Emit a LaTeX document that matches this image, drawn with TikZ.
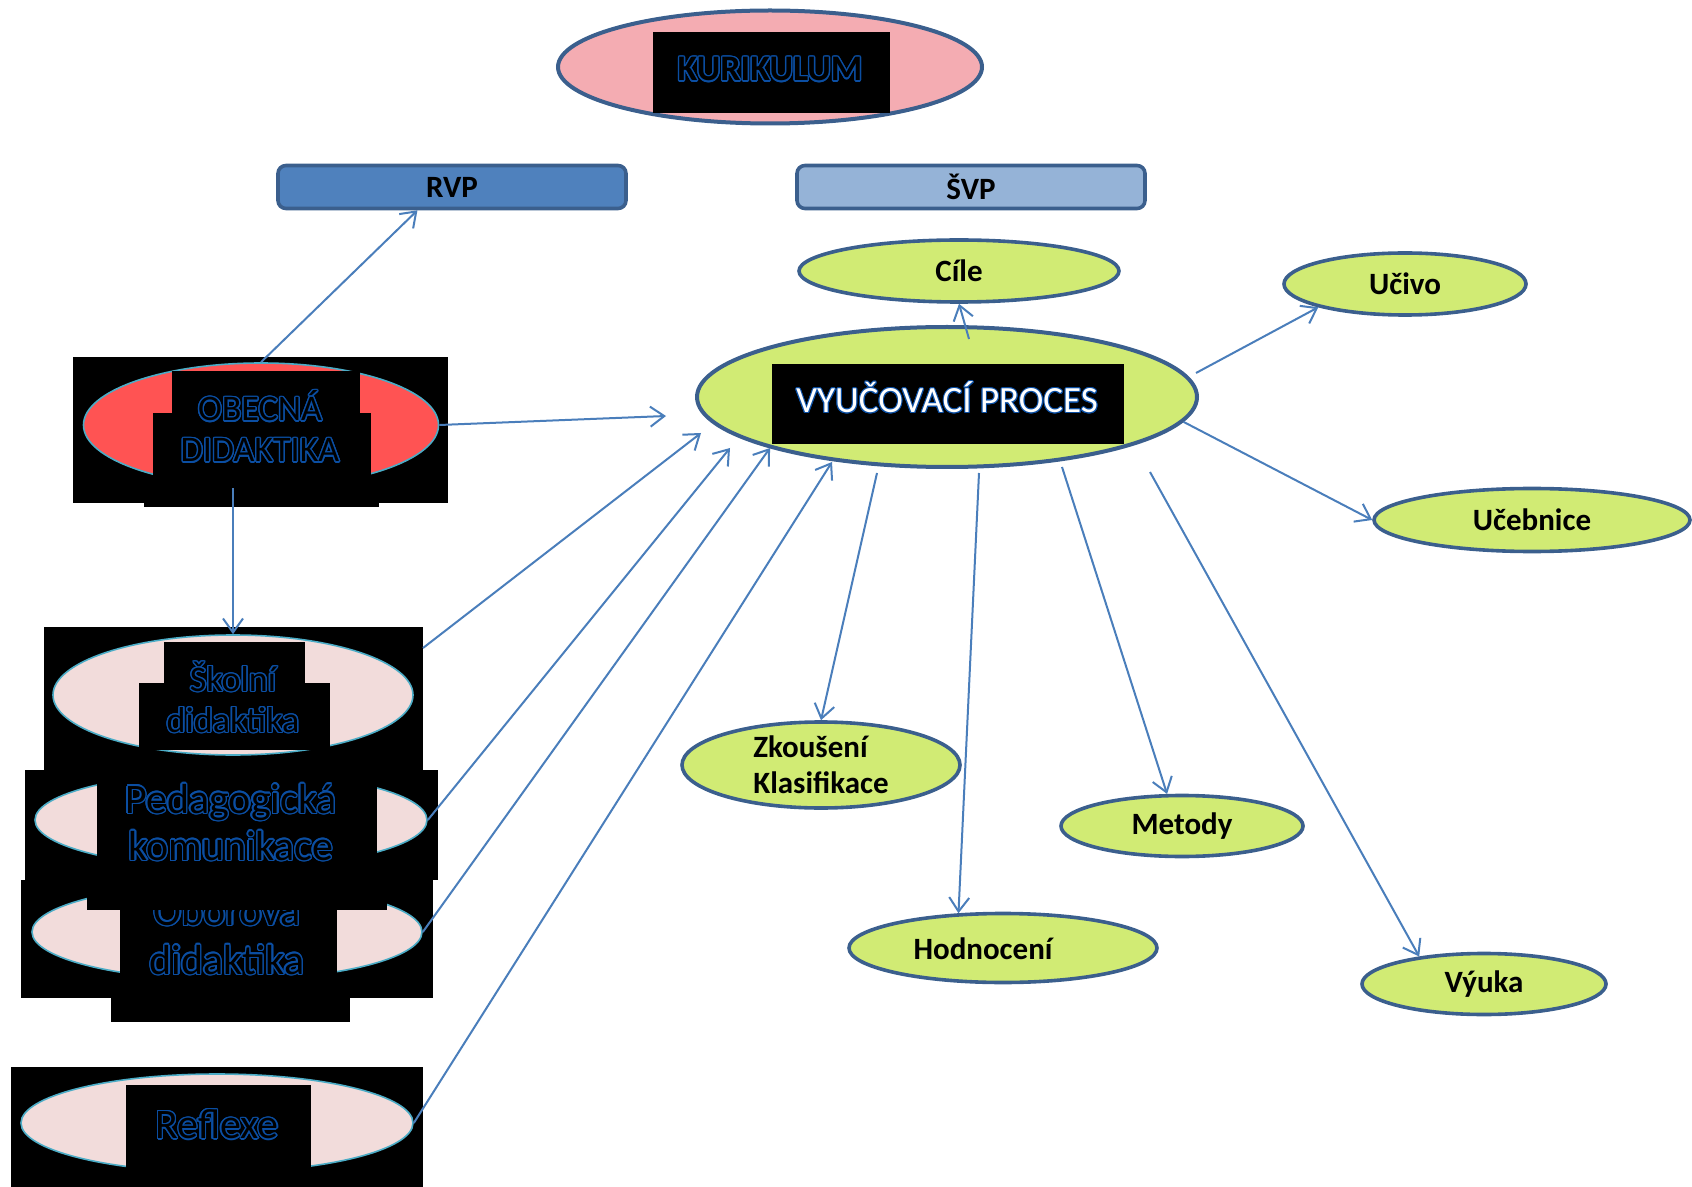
\documentclass[tikz,border=0pt]{standalone}
\usepackage{fontspec}
\setmainfont{Carlito}
\usepackage{contour}
\usetikzlibrary{shapes.geometric,arrows.meta}

\definecolor{kurpink}{HTML}{F4ACB2}
\definecolor{obecred}{HTML}{FF5353}
\definecolor{lightpink}{HTML}{F2DCDB}
\definecolor{lime}{HTML}{D1EB74}
\definecolor{navyline}{HTML}{3B5F8D}
\definecolor{rvpblue}{HTML}{4F81BD}
\definecolor{svpblue}{HTML}{95B3D7}
\definecolor{arrowblue}{HTML}{4A7EBB}
\definecolor{tealline}{HTML}{4BACC6}
\definecolor{glyphblue}{HTML}{0B4EA2}

\contourlength{0.7pt}
\newcommand{\hol}[1]{\contour{glyphblue}{\color{black}#1}}
\newcommand{\lit}[1]{{\contourlength{0.5pt}\contour{glyphblue}{\color{white}#1}}}

\tikzset{
  blk/.style={fill=black},
  pinkell/.style={ellipse, draw=tealline, line width=0.8pt, fill=lightpink, inner sep=0pt},
  greenell/.style={ellipse, draw=navyline, line width=1.8pt, fill=lime, inner sep=0pt,
    font=\bfseries\fontsize{15.5}{18}\selectfont},
  bar/.style={draw=navyline, line width=1.8pt, rounded corners=4pt, minimum width=174pt,
    minimum height=21.5pt, inner sep=0pt, font=\bfseries\fontsize{15.5}{17}\selectfont},
  glowtext/.style={inner sep=0pt, align=center},
  link/.style={draw=arrowblue, line width=1pt, -{Straight Barb[length=7pt,width=10pt]}}
}

\begin{document}
\begin{tikzpicture}[x=0.5pt,y=-0.5pt]
\useasboundingbox (0,0) rectangle (1692,1187);

% top
\node[ellipse, draw=navyline, line width=2pt, fill=kurpink, minimum width=212pt,
  minimum height=56.5pt, inner sep=0pt] (kur) at (770,67) {};
\fill[blk] (653,32) rectangle (890,113);
\node[glowtext, font=\bfseries\fontsize{18}{20}\selectfont] (kurtext) at (770,70) {\hol{KURIKULUM}};

\node[bar, fill=rvpblue] (rvp) at (452,187) {RVP};
\node[bar, fill=svpblue] (svp) at (971,187) {ŠVP};

% vyucovaci proces
\node[greenell, minimum width=160pt, minimum height=31pt] (cile) at (959,271) {Cíle};
\node[greenell, minimum width=121pt, minimum height=31pt] (ucivo) at (1405,284) {Učivo};
\node[greenell, line width=2pt, minimum width=250pt, minimum height=70pt] (vp) at (947,397) {};
\fill[blk] (772,364) rectangle (1124,444);
\node[glowtext, font=\fontsize{18.5}{20}\selectfont] (vptext) at (947,398) {\lit{VYUČOVACÍ PROCES}};
\node[greenell, minimum width=158pt, minimum height=31.5pt] (ucebnice) at (1532,520) {Učebnice};
\node[greenell, minimum width=139pt, minimum height=43pt, align=left] (zk) at (821,765) {Zkoušení\\Klasifikace};
\node[greenell, minimum width=121pt, minimum height=30.5pt] (metody) at (1182,826) {Metody};
\node[greenell, minimum width=154pt, minimum height=34.5pt] (hodn) at (1003,948) {};
\node[glowtext, font=\bfseries\fontsize{15.5}{18}\selectfont] (hodntext) at (983,949) {Hodnocení};
\node[greenell, minimum width=122pt, minimum height=30.5pt] (vyuka) at (1484,984) {Výuka};

% obecna didaktika
\fill[blk] (73,357) rectangle (448,503);
\node[ellipse, draw=tealline, line width=0.8pt, fill=obecred, inner sep=0pt,
  minimum width=177.5pt, minimum height=62pt] (obec) at (261,425) {};
\fill[blk] (172,371) rectangle (360,413);
\fill[blk] (153,413) rectangle (371,477);
\fill[blk] (144,477) rectangle (379,507);
\node[glowtext, font=\fontsize{18}{20.5}\selectfont] (obectext) at (260,427) {\hol{OBECNÁ}\\\hol{DIDAKTIKA}};

% skolni didaktika
\fill[blk] (44,627) rectangle (423,770);
\node[pinkell, minimum width=180pt, minimum height=60pt] (skol) at (233,695) {};
\fill[blk] (164,642) rectangle (305,683);
\fill[blk] (139,683) rectangle (330,750);
\node[glowtext, font=\fontsize{18}{20.5}\selectfont] (skoltext) at (233,698) {\hol{Školní}\\\hol{didaktika}};

% oborova didaktika
\fill[blk] (21,880) rectangle (433,998);
\node[pinkell, minimum width=195pt, minimum height=48pt] (obor) at (227,932) {};
\fill[blk] (120,898) rectangle (337,998);
\fill[blk] (111,998) rectangle (350,1022);
\node[glowtext, font=\fontsize{21}{24.5}\selectfont] (obortext) at (227,936) {\hol{Oborová}\\\hol{didaktika}};

% pedagogicka komunikace
\fill[blk] (25,770) rectangle (438,880);
\node[pinkell, minimum width=196pt, minimum height=48pt] (ped) at (231,820) {};
\fill[blk] (97,770) rectangle (377,880);
\fill[blk] (87,880) rectangle (387,910);
\node[glowtext, font=\fontsize{21}{23.5}\selectfont] (pedtext) at (231,823) {\hol{Pedagogická}\\\hol{komunikace}};

% reflexe
\fill[blk] (11,1067) rectangle (423,1187);
\node[pinkell, minimum width=196pt, minimum height=49pt] (refl) at (217,1123) {};
\fill[blk] (126,1085) rectangle (311,1187);
\node[glowtext, font=\fontsize{21}{24}\selectfont] (refltext) at (217,1125) {\hol{Reflexe}};

% free ends
\coordinate (in1) at (666,416);
\coordinate (in2) at (701,433);
\coordinate (in3) at (730,448);
\coordinate (in4) at (770,448);
\coordinate (in5) at (832,462);
\coordinate (skolout) at (423,648);
\coordinate (cileout) at (969,339);
\coordinate (ucivoout) at (1196,373);
\coordinate (zkout) at (877,473);
\coordinate (hodnout) at (979,473);
\coordinate (metout) at (1062,467);
\coordinate (vyukaout) at (1150,472);

% arrows
\draw[link] (obec.north) -- (rvp.214);
\draw[link] (obec.east) -- (in1);
\draw[link] (obec.south -| skol.north) -- (skol.north);
\draw[link] (skolout) -- (in2);
\draw[link] (ped.east) -- (in3);
\draw[link] (obor.east) -- (in4);
\draw[link] (refl.east) -- (in5);
\draw[link] (cileout) -- (cile.south);
\draw[link] (ucivoout) -- (ucivo.195);
\draw[link] (vp.354) -- (ucebnice.west);
\draw[link] (zkout) -- (zk.north);
\draw[link] (hodnout) -- (hodn.142.5);
\draw[link] (metout) -- (metody.115);
\draw[link] (vyukaout) -- (vyuka.157.6);

\end{tikzpicture}
\end{document}
